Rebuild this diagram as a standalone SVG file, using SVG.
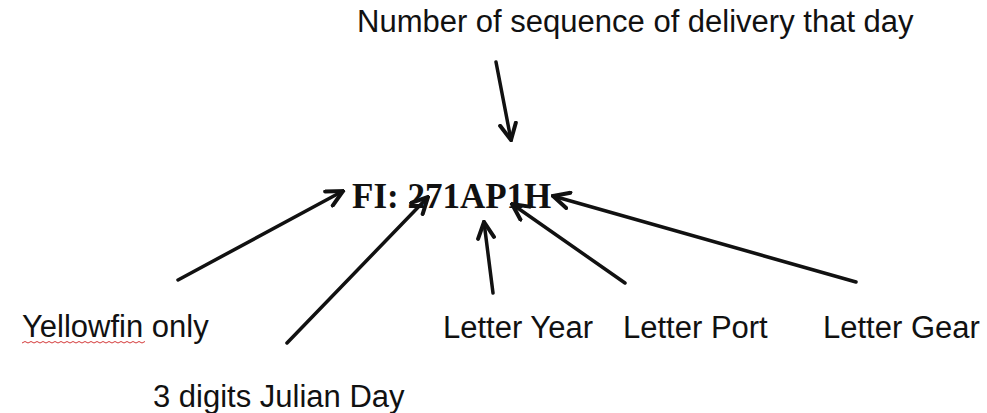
<svg xmlns="http://www.w3.org/2000/svg" width="987" height="413" viewBox="0 0 987 413">
<style>
  .lbl { font-family: "Liberation Sans", Arial, sans-serif; font-size: 31px; fill: #111; }
  .code { font-family: "Liberation Serif", "Times New Roman", serif; font-size: 35px; font-weight: bold; fill: #111; }
  .arr { stroke: #111; stroke-width: 3.5; fill: none; stroke-linecap: round; marker-end: url(#head); }
</style>
<defs>
  <marker id="head" viewBox="0 0 20 20" refX="18" refY="10" markerWidth="20" markerHeight="20" markerUnits="userSpaceOnUse" orient="auto">
    <path d="M2,2 L18,10 L2,18" stroke="#111" stroke-width="4" fill="none" stroke-linecap="round" stroke-linejoin="miter"/>
  </marker>
</defs>
<rect width="987" height="413" fill="#fff"/>
<g id="code"><text class="code" x="352" y="208">FI: 271AP1H</text></g>
<g id="sequence"><text class="lbl" x="357" y="32">Number of sequence of delivery that day</text></g>
<g id="yellowfin"><text class="lbl" x="22" y="337">Yellowfin only</text>
  <path d="M22,343 l3,-1.5 l3,1.5 l3,-1.5 l3,1.5 l3,-1.5 l3,1.5 l3,-1.5 l3,1.5 l3,-1.5 l3,1.5 l3,-1.5 l3,1.5 l3,-1.5 l3,1.5 l3,-1.5 l3,1.5 l3,-1.5 l3,1.5 l3,-1.5 l3,1.5 l3,-1.5 l3,1.5 l3,-1.5 l3,1.5 l3,-1.5 l3,1.5 l3,-1.5 l3,1.5 l3,-1.5 l3,1.5 l3,-1.5 l3,1.5 l3,-1.5 l3,1.5 l3,-1.5 l3,1.5 l3,-1.5 l3,1.5 l3,-1.5 l3,1.5 l3,-1.5" stroke="#d43a3a" stroke-width="1" fill="none"/>
</g>
<g id="julian"><text class="lbl" x="153" y="407">3 digits Julian Day</text></g>
<g id="year"><text class="lbl" x="443" y="338">Letter Year</text></g>
<g id="port"><text class="lbl" x="623" y="338">Letter Port</text></g>
<g id="gear"><text class="lbl" x="823" y="338">Letter Gear</text></g>
<g id="connectors">
  <line class="arr" x1="496" y1="62" x2="511" y2="140"/>
  <line class="arr" x1="178" y1="280" x2="343" y2="191"/>
  <line class="arr" x1="287" y1="343" x2="428" y2="197"/>
  <line class="arr" x1="493" y1="293" x2="484" y2="222"/>
  <line class="arr" x1="625" y1="283" x2="512" y2="204"/>
  <line class="arr" x1="856" y1="282" x2="553" y2="196"/>
</g>
</svg>
